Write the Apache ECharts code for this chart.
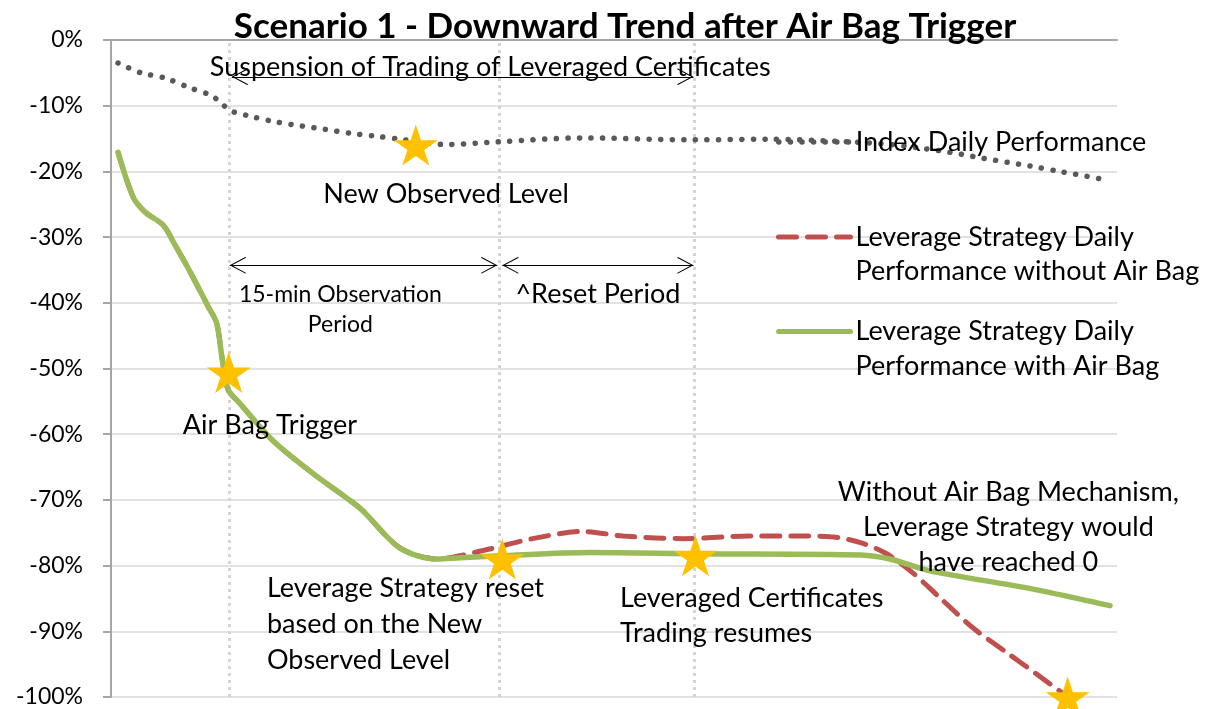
<!DOCTYPE html>
<html><head><meta charset="utf-8">
<script src="https://cdn.jsdelivr.net/npm/echarts@6/dist/echarts.min.js"></script>
<style>html,body{margin:0;padding:0;background:#fff}#c{width:1206px;height:709px}</style>
</head><body><div id="c"></div>
<script>
// ---------- data ----------
const chartTitle = 'Scenario 1 - Downward Trend after Air Bag Trigger';
const seriesNames = [
  'Index Daily Performance',
  'Leverage Strategy Daily Performance without Air Bag',
  'Leverage Strategy Daily Performance with Air Bag'
];
const legendLabels = [
  'Index Daily Performance',
  '\nLeverage Strategy Daily\nPerformance without Air Bag',
  '\nLeverage Strategy Daily\nPerformance with Air Bag'
];
// time (arbitrary units 0..100) and performance in %
const indexX = [0.7, 3.0, 5.4, 7.7, 9.9, 10.9, 11.8, 14.1, 16.5, 19.0, 21.3, 23.8, 26.1, 28.7, 32.0, 33.4, 38.4, 46.8, 57.9, 65.2, 73.5, 77.4, 80.7, 83.4, 86.7, 91.4, 94.3, 99.0];
const indexY = [-3.5, -5.0, -5.8, -7.2, -8.4, -9.5, -10.7, -11.7, -12.5, -13.1, -13.6, -14.2, -14.6, -15.1, -15.8, -15.9, -15.5, -14.9, -15.2, -15.1, -15.5, -15.9, -16.5, -17.1, -18.0, -19.2, -20.0, -21.3];

const withBagX = [0.7, 2.2, 3.4, 5.2, 6.4, 7.9, 9.6, 10.5, 11.0, 11.4, 11.7, 12.8, 16.1, 20.1, 23.5, 25.0, 28.7, 32.4, 34.7, 38.7, 47.6, 58.5, 74.5, 77.4, 81.4, 91.4, 99.3];
const withBagY = [-17.1, -23.9, -26.2, -28.2, -31.3, -35.4, -40.4, -43.1, -48.0, -51.8, -53.4, -55.3, -61.0, -66.0, -69.8, -71.6, -77.3, -79.0, -78.8, -78.5, -78.0, -78.2, -78.4, -79.0, -80.8, -83.5, -86.1];

const noBagX = [0.7, 2.2, 3.4, 5.2, 6.4, 7.9, 9.6, 10.5, 11.0, 11.4, 11.7, 12.8, 16.1, 20.1, 23.5, 25.0, 28.7, 32.4, 37.0, 41.9, 46.9, 50.9, 56.9, 63.5, 68.5, 71.5, 74.5, 77.1, 79.7, 82.4, 85.7, 89.1, 92.0, 95.1];
const noBagY = [-17.1, -23.9, -26.2, -28.2, -31.3, -35.4, -40.4, -43.1, -48.0, -51.8, -53.4, -55.3, -61.0, -66.0, -69.8, -71.6, -77.3, -79.0, -77.7, -75.9, -74.8, -75.5, -75.9, -75.5, -75.5, -75.6, -76.5, -78.2, -81.1, -84.9, -89.5, -93.3, -96.5, -100.0];

const starX = [30.3, 11.7, 38.9, 58.1, 95.1];
const starY = [-16.0, -50.6, -79.0, -78.5, -100.0];

const periodBoundaries = [11.8, 38.6, 58.0];
const yMin = -100, yMax = 0, yStep = 10;

// ---------- helpers ----------
const zip = (xs, ys) => xs.map((x, i) => [x, ys[i]]);
const FONT = 'Lato, "Open Sans", sans-serif';
const STAR = 'path://M50,0 L61.2,34.5 L97.6,34.5 L68.2,55.9 L79.4,90.5 L50,69.1 L20.6,90.5 L31.8,55.9 L2.4,34.5 L38.8,34.5 Z';
const CHEVRON = 'path://M10,-20L10.02,-20L10,-19.98Z M0,20 L10,0 L20,20 L18.6,20 L10,2.8 L1.4,20 Z';

function txt(coord, text, opts) {
  return {
    coord: coord, symbol: 'circle', symbolSize: 1,
    itemStyle: {color: 'rgba(0,0,0,0)'},
    label: Object.assign({show: true, position: 'inside', formatter: text,
      color: '#000', fontFamily: FONT, fontSize: 27, lineHeight: 35}, opts || {})
  };
}
function arrow(x1, x2, y) {
  return [{coord: [x1, y]}, {coord: [x2, y]}];
}

const chart = echarts.init(document.getElementById('c'), null, {renderer: 'canvas'});

const legendBase = {
  orient: 'vertical', left: 776, padding: 0, itemWidth: 72, itemHeight: 14, itemGap: 0,
  selectedMode: false,
  itemStyle: {opacity: 0, color: 'rgba(0,0,0,0)', borderWidth: 0},
  textStyle: {fontFamily: FONT, fontSize: 27, color: '#000', lineHeight: 34}
};

const option = {
  animation: false,
  backgroundColor: '#fff',
  title: {
    text: chartTitle, left: 620, textAlign: 'center', top: 4,
    textStyle: {fontFamily: FONT, fontSize: 35, fontWeight: 'bold', color: '#000'}
  },
  legend: [
    Object.assign({}, legendBase, {top: 125, data: [seriesNames[0]],
      formatter: () => legendLabels[0], lineStyle: {width: 5.5}}),
    Object.assign({}, legendBase, {top: 186, data: [seriesNames[1]],
      formatter: () => legendLabels[1], lineStyle: {width: 5}}),
    Object.assign({}, legendBase, {top: 279, data: [seriesNames[2]],
      formatter: () => legendLabels[2], lineStyle: {width: 5},
      textStyle: Object.assign({}, legendBase.textStyle, {lineHeight: 35})})
  ],
  grid: {left: 111, right: 89, top: 40, bottom: 12, containLabel: false},
  xAxis: {
    type: 'value', min: 0, max: 100, position: 'top',
    axisLine: {show: true, onZero: true, lineStyle: {color: '#a6a6a6', width: 2}},
    axisTick: {show: false}, axisLabel: {show: false}, splitLine: {show: false}
  },
  yAxis: {
    type: 'value', min: yMin, max: yMax, interval: yStep,
    axisLine: {show: true, lineStyle: {color: '#a6a6a6', width: 2}},
    axisTick: {show: true, length: 8, inside: false, lineStyle: {color: '#a6a6a6', width: 2}},
    axisLabel: {formatter: '{value}%', margin: 28, color: '#000', fontFamily: FONT, fontSize: 23},
    splitLine: {show: true, lineStyle: {color: '#d9d9d9', width: 1.5}}
  },
  series: [
    {
      name: seriesNames[1], type: 'line', data: zip(noBagX, noBagY),
      symbol: 'none', smooth: 0.3, z: 2,
      lineStyle: {color: '#C0504D', width: 5, type: [18, 11], cap: 'round'},
      itemStyle: {color: '#C0504D'},
      markLine: {
        silent: true, symbol: 'none', z: 1, animation: false,
        label: {show: false},
        lineStyle: {color: '#d4d4d4', width: 3, type: [3, 4]},
        data: periodBoundaries.map(v => ({xAxis: v}))
      }
    },
    {
      name: seriesNames[2], type: 'line', data: zip(withBagX, withBagY),
      symbol: 'none', smooth: 0.3, z: 3,
      lineStyle: {color: '#9BBB59', width: 5.5, cap: 'round'},
      itemStyle: {color: '#9BBB59'}
    },
    {
      name: seriesNames[0], type: 'line', data: zip(indexX, indexY),
      symbol: 'none', smooth: 0.3, z: 3,
      lineStyle: {color: '#595959', width: 5.5, type: [0.1, 11.5], cap: 'round'},
      itemStyle: {color: '#595959'},
      markLine: {
        silent: true, z: 6, animation: false,
        symbol: [CHEVRON, CHEVRON], symbolSize: [17, 32],
        label: {show: false},
        lineStyle: {color: '#000', width: 1, type: 'solid'},
        emphasis: {disabled: true},
        data: [
          arrow(12.0, 57.9, -5.6),
          arrow(11.8, 38.4, -34.3),
          arrow(38.9, 57.9, -34.3)
        ]
      },
      markPoint: {
        silent: true, z: 7, animation: false,
        data: [
          txt([37.7, -4.1], 'Suspension of Trading of Leveraged Certificates'),
          txt([33.3, -23.5], 'New Observed Level'),
          txt([22.8, -41.0], '15-min Observation\nPeriod', {fontSize: 23, lineHeight: 30}),
          txt([48.4, -38.7], '^Reset Period'),
          txt([15.8, -58.7], 'Air Bag Trigger'),
          txt([15.5, -88.9], 'Leverage Strategy reset\nbased on the New\nObserved Level', {align: 'left', lineHeight: 36}),
          txt([50.6, -87.6], 'Leveraged Certificates\nTrading resumes', {align: 'left', lineHeight: 35}),
          txt([89.2, -74.2], 'Without Air Bag Mechanism,\nLeverage Strategy would\nhave reached 0', {lineHeight: 35})
        ]
      }
    },
    {
      name: 'stars', type: 'scatter', data: zip(starX, starY),
      symbol: STAR, symbolSize: [44, 41], z: 10, clip: false, silent: true,
      itemStyle: {color: '#FFC000', opacity: 1}
    }
  ]
};
chart.setOption(option);
</script>
</body></html>
